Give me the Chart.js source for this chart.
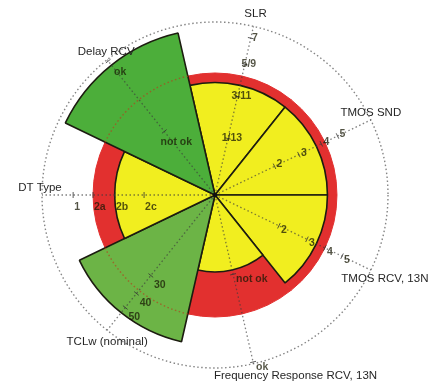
<!DOCTYPE html>
<html>
<head>
<meta charset="utf-8">
<script src="https://cdn.jsdelivr.net/npm/chart.js@4/dist/chart.umd.min.js"></script>
<style>
  html, body { margin: 0; padding: 0; background: #fff; }
  #wrap { width: 429px; height: 382px; }
</style>
</head>
<body>
<div id="wrap"><canvas id="chart"></canvas></div>
<script>
// axes, clockwise from the top (outer dotted circle = 100)
const axes = ['SLR', 'TMOS SND', 'TMOS RCV, 13N', 'Frequency Response RCV, 13N', 'TCLw (nominal)', 'DT Type', 'Delay RCV'];
const scores = [65, 65, 65, 44.5, 87, 58, 96];
const limit = 70.5; // red ring
const tickValues = [
  [33.5, 58.4, 77.5, 93],
  [38.2, 53.8, 68.2, 78.6],
  [41, 59, 70.5, 81.5],
  [47, 99],
  [59.5, 72.8, 83.2],
  [41, 57.8, 70.5, 82],
  [47, 99],
];
const tickLabels = [
  ['1/13', '3/11', '5/9', '7'],
  ['2', '3', '4', '5'],
  ['2', '3', '4', '5'],
  ['not ok', 'ok'],
  ['30', '40', '50'],
  ['2c', '2b', '2a', '1'],
  ['not ok', 'ok'],
];

const RED = '#e2302f';
const YELLOW = '#f1ee1f';
const fillFor = v => v <= limit ? YELLOW : (v > 90 ? '#4cae3a' : '#6cb446');

// label placement per axis: [dx, dy, align]
const tickPos = [[4, 0, 'center'], [5, -2, 'center'], [5, 4, 'center'], [3, 5, 'left'], [9, 10, 'center'], [1, 12, 'left'], [12, 11, 'center']];
const titlePos = [[2, -13], [0, -7], [14, 9], [42, 12], [0, 12], [-2, -7], [-1, -8]];

const overlay = {
    id: 'overlay',
    afterDatasetsDraw(chart) {
        const r = chart.scales.r;
        const ctx = chart.ctx;
        const n = axes.length;
        const at = (i, v) => r.getPointPosition(i + 0.5, r.getDistanceFromCenterForValue(v));
        const cx = r.xCenter, cy = r.yCenter;
        ctx.save();

        // outer dotted circle
        ctx.setLineDash([1.5, 2.5]);
        ctx.lineWidth = 1.4;
        ctx.strokeStyle = '#858585';
        ctx.beginPath();
        ctx.arc(cx, cy, r.getDistanceFromCenterForValue(100), 0, Math.PI * 2);
        ctx.stroke();

        // red ring seen through the green sectors
        ctx.strokeStyle = 'rgba(175,70,30,0.7)';
        scores.forEach((v, i) => {
            if (v <= limit) return;
            const a = r.getIndexAngle(i) - Math.PI / 2;
            ctx.beginPath();
            ctx.arc(cx, cy, r.getDistanceFromCenterForValue(limit), a, a + Math.PI * 2 / n);
            ctx.stroke();
        });

        // axes
        ctx.strokeStyle = 'rgba(60,60,60,0.65)';
        ctx.lineWidth = 1.3;
        for (let i = 0; i < n; i++) {
            const p = at(i, 100);
            ctx.beginPath();
            ctx.moveTo(cx, cy);
            ctx.lineTo(p.x, p.y);
            ctx.stroke();
        }

        // ticks and their labels
        ctx.setLineDash([]);
        ctx.font = 'bold 10.5px "Liberation Sans", Arial, sans-serif';
        ctx.textBaseline = 'middle';
        tickValues.forEach((vals, i) => {
            vals.forEach((v, k) => {
                const p = at(i, v);
                const px = -Math.sin(p.angle) * 3, py = Math.cos(p.angle) * 3;
                ctx.strokeStyle = 'rgba(50,50,50,0.8)';
                ctx.lineWidth = 1;
                ctx.beginPath();
                ctx.moveTo(p.x - px, p.y - py);
                ctx.lineTo(p.x + px, p.y + py);
                ctx.stroke();
                const [dx, dy, align] = tickPos[i];
                ctx.textAlign = align;
                ctx.fillStyle = 'rgba(25,25,5,0.75)';
                ctx.fillText(tickLabels[i][k], p.x + dx, p.y + dy);
            });
        });

        // axis titles
        ctx.font = '11.5px "Liberation Sans", Arial, sans-serif';
        ctx.textAlign = 'center';
        ctx.fillStyle = '#262626';
        axes.forEach((name, i) => {
            const p = at(i, 100);
            ctx.fillText(name, p.x + titlePos[i][0], p.y + titlePos[i][1]);
        });

        // hub
        ctx.fillStyle = '#111';
        ctx.beginPath();
        ctx.arc(cx, cy, 2.2, 0, Math.PI * 2);
        ctx.fill();
        ctx.restore();
    }
};

new Chart(document.getElementById('chart'), {
    type: 'polarArea',
    data: {
        labels: axes,
        datasets: [
            {
                data: scores,
                backgroundColor: scores.map(fillFor),
                borderColor: '#1c1c10',
                borderWidth: 1.6,
            },
            {
                data: axes.map(() => limit),
                backgroundColor: RED,
                borderColor: RED,
                borderWidth: 1,
            },
        ],
    },
    options: {
        responsive: true,
        maintainAspectRatio: false,
        animation: false,
        layout: { padding: { left: 42, right: 41, top: 22, bottom: 14 } },
        plugins: {
            legend: { display: false },
            tooltip: { enabled: false },
        },
        scales: {
            r: {
                min: 0,
                max: 100,
                startAngle: -360 / 28,
                ticks: { display: false },
                grid: { display: false },
                angleLines: { display: false },
                pointLabels: { display: false },
            },
        },
    },
    plugins: [overlay],
});
</script>
</body>
</html>
